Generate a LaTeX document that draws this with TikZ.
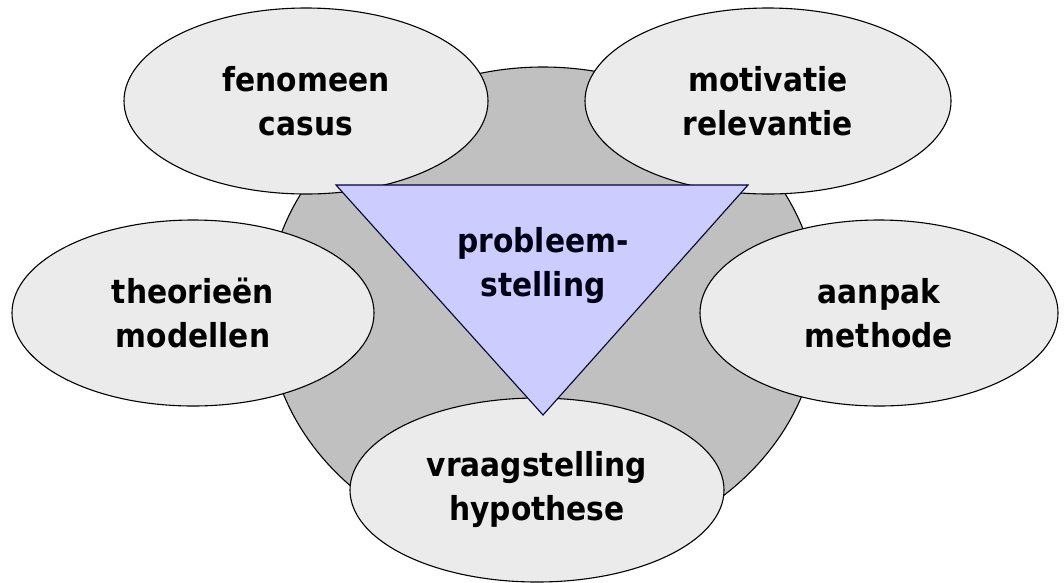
\documentclass[tikz,border=0pt]{standalone}
\usepackage{fontspec}
\setmainfont{DejaVu Sans Condensed}
\usetikzlibrary{shapes.geometric}

\definecolor{bubblegray}{RGB}{235,235,235}
\definecolor{ringgray}{RGB}{192,192,192}
\definecolor{lavender}{RGB}{204,204,255}

\begin{document}
\begin{tikzpicture}[x=1pt,y=-1pt,line width=1.1pt,
    font=\fontsize{33}{44}\selectfont\bfseries]
  \tikzstyle{bubble}=[ellipse,draw=black,fill=bubblegray,inner sep=0pt,align=center]
  \tikzstyle{ring}=[draw=black,fill=ringgray]
  \tikzstyle{wedge}=[draw=black!80!blue,fill=lavender,line join=miter]

  \useasboundingbox (0,0) rectangle (1064,582);

  % grey disc behind everything
  \draw[ring] (543,311) ellipse [x radius=276, y radius=244];

  \node[bubble,minimum width=364pt,minimum height=186pt] (fen) at (306,101) {fenomeen\\casus};
  \node[bubble,minimum width=366pt,minimum height=186pt] (mot) at (768,101) {motivatie\\relevantie};
  \node[bubble,minimum width=362pt,minimum height=186pt] (the) at (193,313) {theorieën\\modellen};
  \node[bubble,minimum width=358pt,minimum height=186pt] (aan) at (879,313) {aanpak\\methode};
  \node[bubble,minimum width=374pt,minimum height=184pt] (vra) at (537,490) {vraagstelling\\hypothese};

  % triangle in the middle
  \coordinate (tl) at (336,185);
  \coordinate (tr) at (748,185);
  \coordinate (tb) at (543,415);
  \draw[wedge] (tl) -- (tr) -- (tb) -- cycle;
  \node[align=center,text=black!92!blue] (prob) at (543,266) {probleem-\\stelling};
\end{tikzpicture}
\end{document}
